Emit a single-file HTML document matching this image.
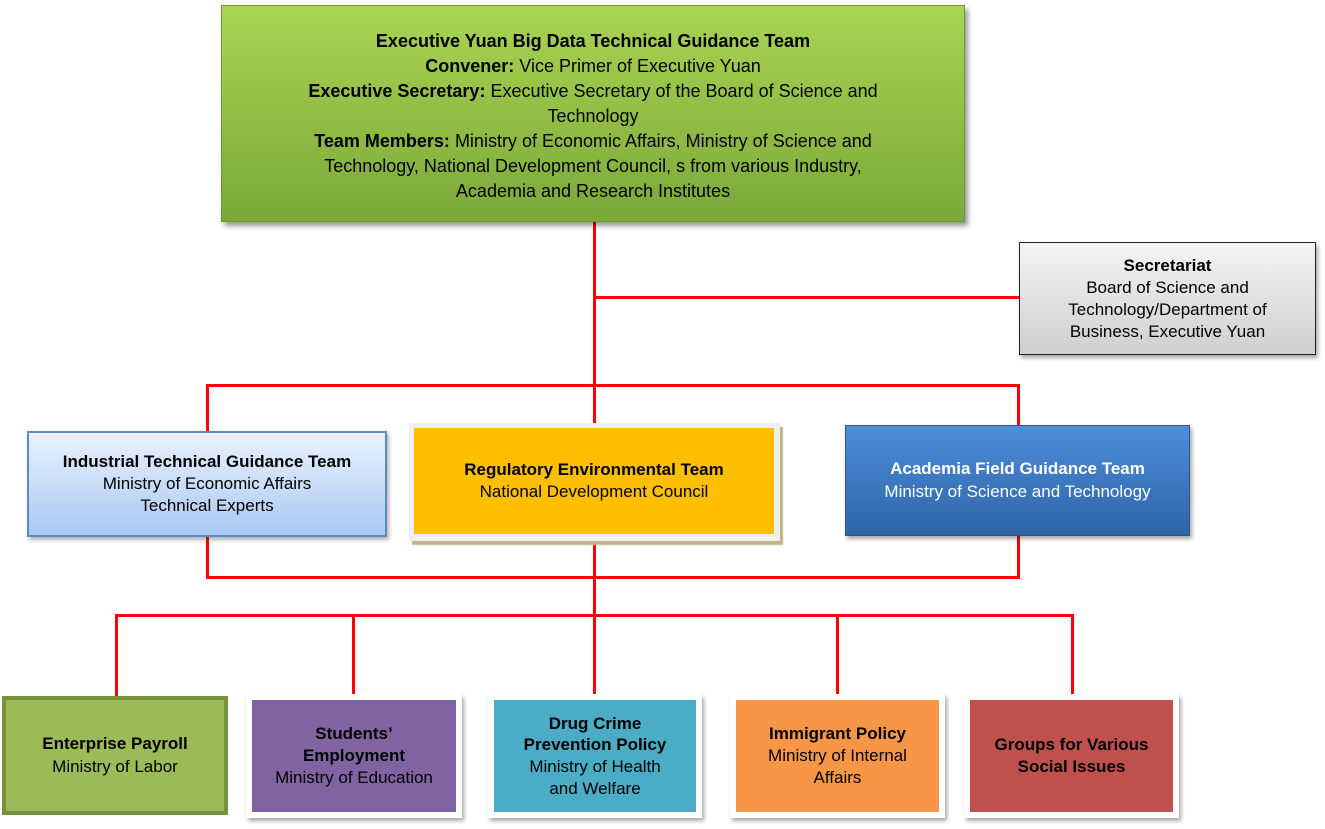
<!DOCTYPE html>
<html><head><style>
body{margin:0;width:1325px;height:829px;background:#fff;position:relative;font-family:"Liberation Sans",sans-serif;overflow:hidden}
.a{position:absolute;box-sizing:border-box;display:flex;align-items:center;justify-content:center;text-align:center;color:#000;line-height:1.3}
.l{position:absolute;background:#f00}
.f{position:absolute;background:#fff;box-shadow:2px 3px 4px rgba(0,0,0,.35)}
b{font-weight:bold}
</style></head><body>
<div class="l" style="left:593px;top:222px;width:3px;height:476px"></div>
<div class="l" style="left:595px;top:296px;width:424px;height:3px"></div>
<div class="l" style="left:206px;top:384px;width:814px;height:3px"></div>
<div class="l" style="left:206px;top:384px;width:3px;height:48px"></div>
<div class="l" style="left:1017px;top:384px;width:3px;height:42px"></div>
<div class="l" style="left:206px;top:536px;width:3px;height:43px"></div>
<div class="l" style="left:1017px;top:536px;width:3px;height:43px"></div>
<div class="l" style="left:206px;top:576px;width:814px;height:3px"></div>
<div class="l" style="left:115px;top:614px;width:959px;height:3px"></div>
<div class="l" style="left:115px;top:614px;width:3px;height:84px"></div>
<div class="l" style="left:352px;top:614px;width:3px;height:82px"></div>
<div class="l" style="left:836px;top:614px;width:3px;height:82px"></div>
<div class="l" style="left:1071px;top:614px;width:3px;height:82px"></div>

<div class="a" style="left:221px;top:5px;width:744px;height:217px;background:linear-gradient(#aad452,#7ba83a);border:1px solid #6f9535;box-shadow:3px 4px 5px rgba(0,0,0,.4);font-size:18px;line-height:25px;padding:6px 20px 0"><div><b>Executive Yuan Big Data Technical Guidance Team</b><br><b>Convener:</b> Vice Primer of Executive Yuan<br><b>Executive Secretary:</b> Executive Secretary of the Board of Science and<br>Technology<br><b>Team Members:</b> Ministry of Economic Affairs, Ministry of Science and<br>Technology, National Development Council, s from various Industry,<br>Academia and Research Institutes</div></div>

<div class="a" style="left:1019px;top:242px;width:297px;height:113px;background:linear-gradient(#f4f4f4,#cfcfcf);border:1px solid #222;box-shadow:2px 3px 4px rgba(0,0,0,.35);font-size:17px;line-height:22px;padding:0 30px"><div><b>Secretariat</b><br>Board of Science and Technology/Department of Business, Executive Yuan</div></div>

<div class="a" style="left:27px;top:431px;width:360px;height:106px;background:linear-gradient(#eaf2fd,#a9c9f3);border:2px solid #5b8ac6;box-shadow:2px 3px 4px rgba(0,0,0,.3);font-size:17px"><div><b>Industrial Technical Guidance Team</b><br>Ministry of Economic Affairs<br>Technical Experts</div></div>

<div style="position:absolute;left:409px;top:423px;width:371px;height:118px;background:#efefef;box-shadow:3px 4px 1px #c2b58a"></div>
<div class="a" style="left:414px;top:428px;width:360px;height:106px;background:#fdbf00;font-size:17px"><div><b>Regulatory Environmental Team</b><br>National Development Council</div></div>

<div class="a" style="left:845px;top:425px;width:345px;height:111px;background:linear-gradient(#4d8ed9,#2e64a8);border:1px solid #2a5590;box-shadow:2px 3px 4px rgba(0,0,0,.35);font-size:17px;color:#fff"><div><b>Academia Field Guidance Team</b><br>Ministry of Science and Technology</div></div>

<div class="a" style="left:2px;top:696px;width:226px;height:119px;background:#9bbb59;border:4px solid #76923c;font-size:17px"><div><b>Enterprise Payroll</b><br>Ministry of Labor</div></div>

<div class="f" style="left:246px;top:694px;width:216px;height:124px"></div>
<div class="a" style="left:252px;top:700px;width:204px;height:112px;background:#8064a2;font-size:17px"><div><b>Students’<br>Employment</b><br>Ministry of Education</div></div>

<div class="f" style="left:488px;top:694px;width:214px;height:124px"></div>
<div class="a" style="left:494px;top:700px;width:202px;height:112px;background:#4bacc6;font-size:17px;line-height:1.28"><div><b>Drug Crime<br>Prevention Policy</b><br>Ministry of Health<br>and Welfare</div></div>

<div class="f" style="left:730px;top:694px;width:215px;height:124px"></div>
<div class="a" style="left:736px;top:700px;width:203px;height:112px;background:#f79646;font-size:17px"><div><b>Immigrant Policy</b><br>Ministry of Internal<br>Affairs</div></div>

<div class="f" style="left:964px;top:694px;width:215px;height:124px"></div>
<div class="a" style="left:970px;top:700px;width:203px;height:112px;background:#c0504d;font-size:17px"><div><b>Groups for Various<br>Social Issues</b></div></div>
</body></html>
